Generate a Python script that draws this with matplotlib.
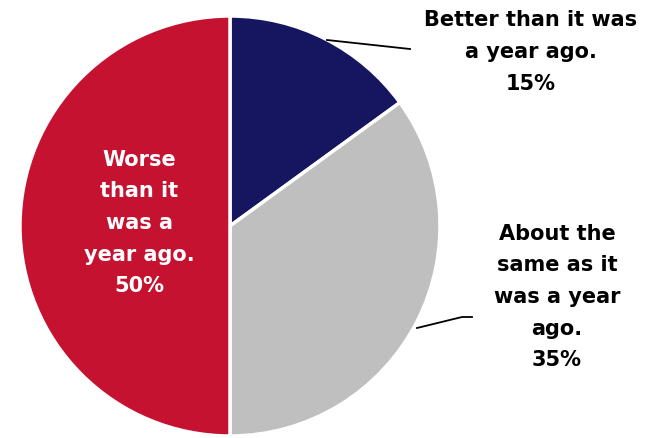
import matplotlib.pyplot as plt

labels = ["Better than it was\na year ago.", "About the\nsame as it\nwas a year\nago.", "Worse\nthan it\nwas a\nyear ago."]
shares = [15, 35, 50]
colors = ["#16155F", "#BFBFBF", "#C41230"]

W, H = 657, 439
fig = plt.figure(figsize=(W / 100, H / 100), dpi=100)
ax = fig.add_axes([0, 0, 1, 1])

cx, cy, r = 230, 227, 210
ax.pie(shares, colors=colors, startangle=90, counterclock=False,
       center=(cx, H - cy), radius=r, frame=True,
       wedgeprops=dict(edgecolor="white", linewidth=2.5))
ax.set_xlim(0, W)
ax.set_ylim(0, H)
ax.axis("off")

font = dict(fontsize=15, fontweight="bold", ha="center", va="center",
            family="DejaVu Sans", linespacing=1.72)

# outside labels with leader lines
ax.text(531, H - 52, f"{labels[0]}\n{shares[0]}%", color="black", **font)
ax.plot([327, 410], [H - 41, H - 50], color="black", lw=1.3)

ax.text(557, H - 297, f"{labels[1]}\n{shares[1]}%", color="black", **font)
ax.plot([417, 462, 472], [H - 329, H - 318, H - 318], color="black", lw=1.3)

# inside label on the red slice
ax.text(139, H - 223, f"{labels[2]}\n{shares[2]}%", color="white", **font)

fig.savefig("out.png", dpi=100)
